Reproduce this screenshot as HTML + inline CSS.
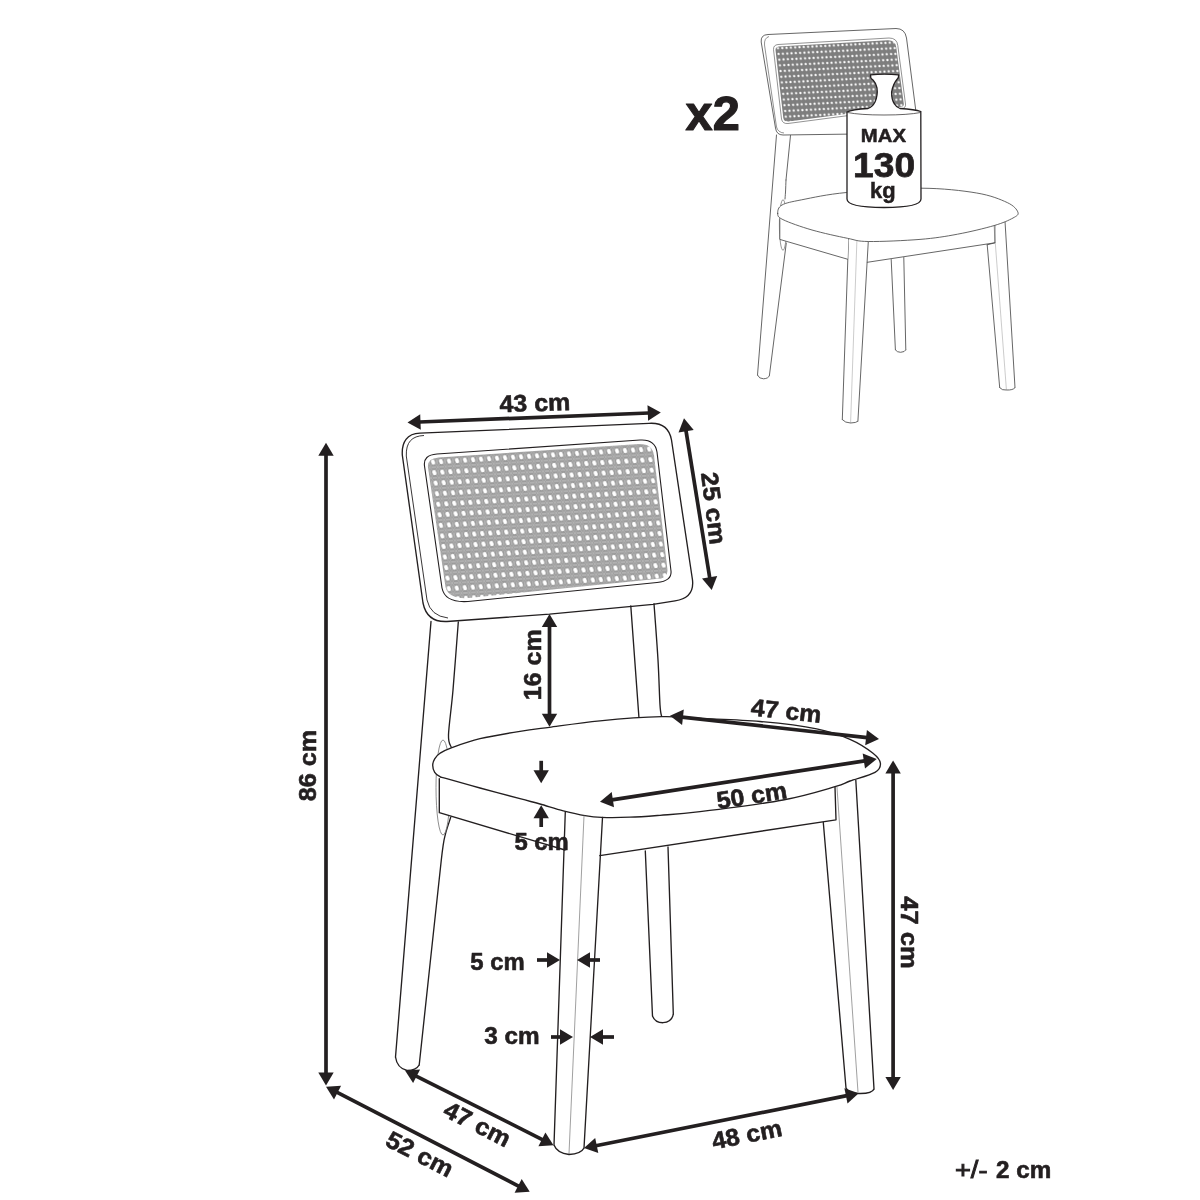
<!DOCTYPE html>
<html><head><meta charset="utf-8"><style>
html,body{margin:0;padding:0;background:#fff;}
svg{display:block;will-change:transform;}
text{font-family:"Liberation Sans",sans-serif;fill:#231f20;}
</style></head><body>
<svg width="1200" height="1200" viewBox="0 0 1200 1200">
<defs>
<pattern id="cane" patternUnits="userSpaceOnUse" width="8" height="10.55" patternTransform="matrix(1,-0.06,0.1245,1,428.4,457.0)">
<rect width="8" height="10.55" fill="#9a9a9a"/>
<path d="M0,0 L8,10.55 M8,0 L0,10.55" stroke="#b9b9b9" stroke-width="0.8"/>
<path d="M1.5,0.4 H6.5 M0.4,2.5 V8 M1.5,10.1 H6.5 M7.6,2.5 V8" stroke="#bebebe" stroke-width="0.6"/>
<ellipse cx="4" cy="5.275" rx="1.95" ry="2.6" fill="#fff" transform="rotate(-15 4 5.275)"/>
</pattern>
<pattern id="cane2" patternUnits="userSpaceOnUse" width="4.3" height="5.7" patternTransform="matrix(1,-0.05,0.115,1,775.5,45.5)">
<rect width="4.3" height="5.7" fill="#7e7e7e"/>
<ellipse cx="2.15" cy="2.85" rx="1.05" ry="1.25" fill="#fff"/>
</pattern>
</defs>
<rect width="1200" height="1200" fill="#fff"/>
<g id="small">
<path d="M776.5,135.0 L757.5,375.0" fill="none" stroke="#4a4a4a" stroke-width="0.85" stroke-linejoin="round" stroke-linecap="round"/>
<path d="M786.0,180.0 C785.9,182.0 785.7,188.8 785.5,192.0 C785.3,195.2 785.1,197.8 785.0,199.0" fill="none" stroke="#4a4a4a" stroke-width="0.85" stroke-linejoin="round" stroke-linecap="round"/>
<path d="M790.5,135.5 L786.0,180.0" fill="none" stroke="#4a4a4a" stroke-width="0.85" stroke-linejoin="round" stroke-linecap="round"/>
<path d="M786.3,243.0 L769.4,375.5" fill="none" stroke="#4a4a4a" stroke-width="0.85" stroke-linejoin="round" stroke-linecap="round"/>
<path d="M757.5,375 Q759,378.8 763.5,378.8 Q768.5,378.5 769.4,375.5" fill="none" stroke="#4a4a4a" stroke-width="0.85"/>
<path d="M768,34.5 L896,28.5 Q905,28.5 906.5,38 L917,120 Q918,133 908,133.3 L783,135 Q776.5,135 775.5,128 L761.2,42 Q760.5,34.8 768,34.5 Z" fill="#fff" stroke="#4a4a4a" stroke-width="0.85"/>
<path d="M769,36.5 Q764,38 764.5,45 L776.5,127 Q778,132.5 784,133" fill="none" stroke="#4a4a4a" stroke-width="0.6"/>
<path d="M778,44.5 L889,38 Q897,38 897.8,45.5 L905.5,104 Q906,108 902,108.5 L788,123.5 Q782.5,124 781.5,119 L773.5,49.5 Q773.3,45 778,44.5 Z" fill="#fff" stroke="#4a4a4a" stroke-width="0.6"/>
<path d="M778.8,46.5 L888,40.2 Q895.5,40.2 896.2,47 L903.8,104 Q904,106.5 901,106.8 L788.5,121.5 Q784,122 783.3,118 L775.5,50 Q775.3,47 778.8,46.5 Z" fill="url(#cane2)"/>
<path d="M893.0,133.0 L897.0,190.0" fill="none" stroke="#4a4a4a" stroke-width="0.85" stroke-linejoin="round" stroke-linecap="round"/>
<path d="M905.0,133.0 L909.0,190.0" fill="none" stroke="#4a4a4a" stroke-width="0.85" stroke-linejoin="round" stroke-linecap="round"/>
<path d="M987.2,244.8 L999.7,387.6" fill="none" stroke="#4a4a4a" stroke-width="0.85" stroke-linejoin="round" stroke-linecap="round"/>
<path d="M994.0,226.0 L1006.4,389.5" fill="none" stroke="#999" stroke-width="0.50" stroke-linejoin="round" stroke-linecap="round"/>
<path d="M1005.0,221.0 L1015.0,387.6" fill="none" stroke="#4a4a4a" stroke-width="0.85" stroke-linejoin="round" stroke-linecap="round"/>
<path d="M999.7,387.6 Q1002,390.5 1006.4,390 Q1013,390.3 1015,387.6" fill="none" stroke="#4a4a4a" stroke-width="0.85"/>
<path d="M891.2,259.5 L895.4,349.8" fill="none" stroke="#4a4a4a" stroke-width="0.85" stroke-linejoin="round" stroke-linecap="round"/>
<path d="M903.8,257.5 L905.8,349.8" fill="none" stroke="#4a4a4a" stroke-width="0.85" stroke-linejoin="round" stroke-linecap="round"/>
<path d="M895.4,349.8 Q897,352.3 900.6,352.3 Q905,352 905.8,349.8" fill="none" stroke="#4a4a4a" stroke-width="0.85"/>
<path d="M848.5,239.4 L842.3,419.6" fill="none" stroke="#4a4a4a" stroke-width="0.85" stroke-linejoin="round" stroke-linecap="round"/>
<path d="M856.9,240.4 L850.6,422.7" fill="none" stroke="#999" stroke-width="0.50" stroke-linejoin="round" stroke-linecap="round"/>
<path d="M868.3,241.5 L857.9,421.2" fill="none" stroke="#4a4a4a" stroke-width="0.85" stroke-linejoin="round" stroke-linecap="round"/>
<path d="M842.3,419.6 Q845,422.8 850.6,423 Q856.5,422.8 857.9,421.2" fill="none" stroke="#4a4a4a" stroke-width="0.85"/>
<ellipse cx="783" cy="225" rx="3.6" ry="25.3" fill="#fff" stroke="#666" stroke-width="0.7"/>
<path d="M779.8,219.6 L779.8,239.4 L847.5,259.2 L848.5,239.4 L812,230 L782.9,219.6 Z" fill="#fff"/>
<path d="M779.8,219.6 L779.8,239.4 L847.5,259.2" fill="none" stroke="#4a4a4a" stroke-width="0.85" stroke-linejoin="round" stroke-linecap="round"/>
<path d="M867.3,262.3 L994.9,242.8 L994.9,225.6" fill="none" stroke="#4a4a4a" stroke-width="0.85" stroke-linejoin="round" stroke-linecap="round"/>
<path d="M987.2,244.8 L994.9,242.8" fill="none" stroke="#4a4a4a" stroke-width="0.85" stroke-linejoin="round" stroke-linecap="round"/>
<path d="M777.7,213.3 C777.6,210.9 778.0,207.2 782.0,205.0 C786.0,202.8 791.0,201.9 801.7,199.8 C812.5,197.7 826.6,194.4 846.5,192.5 C866.4,190.6 899.3,188.1 921.0,188.2 C942.7,188.3 962.3,190.6 976.7,193.0 C991.1,195.4 1000.4,199.4 1007.3,202.6 C1014.2,205.8 1016.9,209.6 1017.9,212.2 C1018.9,214.8 1017.0,215.8 1013.0,218.0 C1009.0,220.2 1003.2,222.9 994.0,225.6 C984.8,228.3 969.8,231.9 957.5,234.2 C945.2,236.5 934.9,238.2 920.0,239.4 C905.1,240.6 880.4,241.7 868.3,241.5 C856.2,241.3 856.9,240.2 847.5,238.3 C838.1,236.4 822.8,233.1 812.0,230.0 C801.2,226.9 788.6,222.4 782.9,219.6 C777.2,216.8 777.9,215.7 777.7,213.3Z" fill="#fff" stroke="#4a4a4a" stroke-width="0.85" stroke-linejoin="round" stroke-linecap="round"/>
<path d="M870.5,74.8 Q884.5,73.5 898.5,74.8 Q899,77.8 897.3,79 Q893,84 891.6,92 Q891.5,100 894.5,104 Q896.5,107.5 900,108.5 Q915,109.5 920.8,111.5 L921,199 Q921,207.5 884,207.5 Q847,207.5 847,199 L847,112 Q852,109.5 868,108.5 Q872.5,107 875,102 Q878,95 877,88 Q876,83 873,80 Q870,78 870.5,74.8 Z" fill="#fff" stroke="#231f20" stroke-width="1.3"/>
<path d="M847.5,112.5 Q860,115 884,115 Q908,115 920.5,112.5" fill="none" stroke="#231f20" stroke-width="0.7"/>
<text transform="translate(883.4,135.6) rotate(0.00)" x="0" y="6.74" font-size="18.5" font-weight="bold" text-anchor="middle" textLength="45.1" lengthAdjust="spacingAndGlyphs" stroke="#231f20" stroke-width="0.50" stroke-linejoin="round">MAX</text>
<text transform="translate(884.1,163.7) rotate(0.00)" x="0" y="12.94" font-size="35.5" font-weight="bold" text-anchor="middle" textLength="62.0" lengthAdjust="spacingAndGlyphs" stroke="#231f20" stroke-width="0.75" stroke-linejoin="round">130</text>
<text x="882.8" y="197.5" font-size="21.5" font-weight="bold" text-anchor="middle" textLength="25.6" lengthAdjust="spacingAndGlyphs" stroke="#231f20" stroke-width="0.5">kg</text>
</g>
<g id="main">
<path d="M420,433.2 L649,423.3 C662,422.5 669.5,428.5 671.5,440 L692.5,580 Q694.5,598 675,600.8 L653,604.3 L549.5,614.2 L447,621.5 Q427,622.5 423,603 L402.3,455 C401.6,442 407,433.6 420,433.2 Z" fill="#fff" stroke="#231f20" stroke-width="1.35"/>
<path d="M424,435.5 C412,436 405.8,442 406.3,456 L427,600 Q430.5,616 448,618" fill="none" stroke="#231f20" stroke-width="0.9"/>
<path d="M437,454 L640,440 Q655,439 657,452 L671,571 Q672,581 657,582.5 L468,601.5 Q445,603 442,588 L424.5,466 Q423,455 437,454 Z" fill="#fff" stroke="#231f20" stroke-width="1.1"/>
<path d="M438.5,457.5 L639,444 Q652,443.5 654,455 L667.5,570 Q668,578.5 656,579 L469,598 Q448.5,599.5 445.5,587 L428,467.5 Q427,458.5 438.5,457.5 Z" fill="url(#cane)"/>
<path d="M431.0,621.5 L395.5,1057.0" fill="none" stroke="#231f20" stroke-width="1.35" stroke-linejoin="round" stroke-linecap="round"/>
<path d="M458.3,622.0 C457.4,633.3 454.6,671.2 453.0,690.0 C451.4,708.8 448.8,725.5 448.5,735.0 C448.2,744.5 450.8,745.2 451.3,747.3" fill="none" stroke="#231f20" stroke-width="1.35" stroke-linejoin="round" stroke-linecap="round"/>
<path d="M450.7,817.3 C450.2,819.0 446.2,830.4 445.3,834.7 C444.4,839.0 443.9,837.0 441.3,860.0 C438.7,883.0 421.4,1044.5 419.2,1065.0" fill="none" stroke="#231f20" stroke-width="1.35" stroke-linejoin="round" stroke-linecap="round"/>
<path d="M395.5,1057 Q397,1068 407,1070.5 Q416,1070.5 419.2,1065" fill="none" stroke="#231f20" stroke-width="1.35"/>
<path d="M630.8,606.0 L639.0,718.3" fill="none" stroke="#231f20" stroke-width="1.35" stroke-linejoin="round" stroke-linecap="round"/>
<path d="M654.0,603.8 C654.7,613.2 657.0,643.1 658.0,660.0 C659.0,676.9 659.4,695.5 660.0,705.0 C660.6,714.5 661.4,714.8 661.7,716.7" fill="none" stroke="#231f20" stroke-width="1.35" stroke-linejoin="round" stroke-linecap="round"/>
<ellipse cx="443" cy="787.5" rx="7" ry="47.5" fill="none" stroke="#7a7a7a" stroke-width="0.85"/>
<path d="M439.3,779 L439.3,812.7 L565,850 L565.5,811 L446.7,778.7 Z" fill="#fff"/>
<path d="M432.7,765.3 C432.7,763.0 433.5,760.8 434.7,758.8 C435.9,756.8 437.2,755.0 440.0,753.2 C442.8,751.4 444.6,750.2 451.3,747.8 C458.0,745.4 468.6,741.5 480.0,738.7 C491.4,736.0 508.4,733.2 520.0,731.3 C531.5,729.4 536.0,729.0 549.3,727.3 C562.6,725.5 581.3,722.6 600.0,720.8 C618.7,719.0 645.0,717.1 661.7,716.7 C678.4,716.3 683.6,717.7 700.0,718.5 C716.4,719.3 740.5,719.8 760.0,721.5 C779.5,723.2 801.7,725.8 816.7,728.8 C831.7,731.8 840.6,735.2 850.0,739.3 C859.4,743.4 867.9,749.2 873.0,753.2 C878.1,757.2 880.1,760.1 880.4,763.3 C880.7,766.5 880.1,769.3 875.0,772.3 C869.9,775.2 856.7,778.6 850.0,781.0 C843.3,783.4 846.2,783.5 835.0,786.7 C823.8,789.9 805.5,795.8 783.0,800.0 C760.5,804.2 720.5,809.2 700.0,811.7 C679.5,814.2 671.7,814.4 660.0,815.3 C648.3,816.2 639.7,816.9 630.0,817.2 C620.3,817.6 609.2,817.7 601.7,817.4 C594.2,817.1 591.4,816.7 585.0,815.6 C578.6,814.5 570.8,812.7 563.3,810.8 C555.8,808.9 547.2,806.0 540.0,804.0 C532.8,802.0 530.0,801.4 520.0,798.7 C510.0,796.0 492.2,791.3 480.0,788.0 C467.8,784.7 453.4,780.6 446.7,778.7 C440.0,776.8 442.0,777.8 440.0,776.7 C438.0,775.6 435.9,774.2 434.7,772.3 C433.5,770.4 432.7,767.5 432.7,765.3Z" fill="#fff" stroke="#231f20" stroke-width="1.35" stroke-linejoin="round" stroke-linecap="round"/>
<path d="M439.3,778.7 L439.3,812.7 L565.0,850.0" fill="none" stroke="#231f20" stroke-width="1.35" stroke-linejoin="round" stroke-linecap="round"/>
<path d="M599.8,855.6 L836.0,819.8 L835.0,787.3" fill="none" stroke="#231f20" stroke-width="1.35" stroke-linejoin="round" stroke-linecap="round"/>
<path d="M565.3,811.7 L554.0,1145.0" fill="none" stroke="#231f20" stroke-width="1.35" stroke-linejoin="round" stroke-linecap="round"/>
<path d="M584.0,815.8 L569.0,1154.0" fill="none" stroke="#777" stroke-width="0.70" stroke-linejoin="round" stroke-linecap="round"/>
<path d="M602.5,817.5 L584.0,1148.0" fill="none" stroke="#231f20" stroke-width="1.35" stroke-linejoin="round" stroke-linecap="round"/>
<path d="M554,1145 Q557,1153 569,1154.5 Q581,1154 584,1148" fill="none" stroke="#231f20" stroke-width="1.35"/>
<path d="M823.3,822.5 L846.0,1088.0" fill="none" stroke="#231f20" stroke-width="1.35" stroke-linejoin="round" stroke-linecap="round"/>
<path d="M837.0,787.3 L858.0,1092.0" fill="none" stroke="#777" stroke-width="0.70" stroke-linejoin="round" stroke-linecap="round"/>
<path d="M855.8,780.0 L874.0,1089.0" fill="none" stroke="#231f20" stroke-width="1.35" stroke-linejoin="round" stroke-linecap="round"/>
<path d="M846,1088 Q849,1093 858,1093.5 Q872,1094 874,1089" fill="none" stroke="#231f20" stroke-width="1.35"/>
<path d="M645.3,851.0 L652.5,1016.0" fill="none" stroke="#231f20" stroke-width="1.35" stroke-linejoin="round" stroke-linecap="round"/>
<path d="M668.0,847.0 L673.3,1014.0" fill="none" stroke="#231f20" stroke-width="1.35" stroke-linejoin="round" stroke-linecap="round"/>
<path d="M652.5,1016 Q655,1022.7 663,1022.7 Q672,1022 673.3,1014" fill="none" stroke="#231f20" stroke-width="1.35"/>
<path d="M407.5,422.5 L420.2,414.3 L420.8,429.7 Z" fill="#231f20"/>
<path d="M660.8,412.5 L648.1,420.7 L647.5,405.3 Z" fill="#231f20"/>
<path d="M419.5,422.0 L648.8,413.0" stroke="#231f20" stroke-width="3.70" fill="none"/>
<path d="M684.0,418.3 L693.7,429.9 L678.5,432.4 Z" fill="#231f20"/>
<path d="M711.7,590.0 L702.0,578.4 L717.2,575.9 Z" fill="#231f20"/>
<path d="M685.9,430.1 L709.8,578.2" stroke="#231f20" stroke-width="3.70" fill="none"/>
<path d="M549.5,614.0 L557.2,627.0 L541.8,627.0 Z" fill="#231f20"/>
<path d="M549.5,726.7 L541.8,713.7 L557.2,713.7 Z" fill="#231f20"/>
<path d="M549.5,626.0 L549.5,714.7" stroke="#231f20" stroke-width="3.70" fill="none"/>
<path d="M670.0,715.8 L683.8,709.6 L682.1,724.9 Z" fill="#231f20"/>
<path d="M879.0,739.0 L865.2,745.2 L866.9,729.9 Z" fill="#231f20"/>
<path d="M681.9,717.1 L867.1,737.7" stroke="#231f20" stroke-width="3.70" fill="none"/>
<path d="M600.0,801.7 L611.7,792.1 L614.0,807.3 Z" fill="#231f20"/>
<path d="M876.7,759.0 L865.0,768.6 L862.7,753.4 Z" fill="#231f20"/>
<path d="M611.9,799.9 L864.8,760.8" stroke="#231f20" stroke-width="3.70" fill="none"/>
<path d="M326.0,442.7 L333.7,455.7 L318.3,455.7 Z" fill="#231f20"/>
<path d="M326.0,1085.6 L318.3,1072.6 L333.7,1072.6 Z" fill="#231f20"/>
<path d="M326.0,454.7 L326.0,1073.6" stroke="#231f20" stroke-width="3.70" fill="none"/>
<path d="M893.1,760.4 L900.8,773.4 L885.4,773.4 Z" fill="#231f20"/>
<path d="M893.1,1090.0 L885.4,1077.0 L900.8,1077.0 Z" fill="#231f20"/>
<path d="M893.1,772.4 L893.1,1078.0" stroke="#231f20" stroke-width="3.70" fill="none"/>
<path d="M405.0,1070.4 L420.1,1069.4 L413.1,1083.1 Z" fill="#231f20"/>
<path d="M553.5,1145.2 L538.4,1146.2 L545.4,1132.5 Z" fill="#231f20"/>
<path d="M415.7,1075.8 L542.8,1139.8" stroke="#231f20" stroke-width="3.70" fill="none"/>
<path d="M326.0,1086.7 L341.1,1085.8 L334.0,1099.5 Z" fill="#231f20"/>
<path d="M529.7,1191.8 L514.6,1192.7 L521.7,1179.0 Z" fill="#231f20"/>
<path d="M336.7,1092.2 L519.0,1186.3" stroke="#231f20" stroke-width="3.70" fill="none"/>
<path d="M584.0,1148.0 L595.2,1137.9 L598.3,1153.0 Z" fill="#231f20"/>
<path d="M858.7,1093.3 L847.5,1103.4 L844.4,1088.3 Z" fill="#231f20"/>
<path d="M595.8,1145.7 L846.9,1095.6" stroke="#231f20" stroke-width="3.70" fill="none"/>
<path d="M541.2,783.3 L533.5,770.3 L548.9,770.3 Z" fill="#231f20"/>
<path d="M541.2,760.8 L541.2,771.3" stroke="#231f20" stroke-width="3.70" fill="none"/>
<path d="M541.2,805.2 L548.9,818.2 L533.5,818.2 Z" fill="#231f20"/>
<path d="M541.2,827.0 L541.2,817.2" stroke="#231f20" stroke-width="3.70" fill="none"/>
<path d="M560.0,960.0 L547.0,967.7 L547.0,952.3 Z" fill="#231f20"/>
<path d="M537.0,960.0 L548.0,960.0" stroke="#231f20" stroke-width="3.70" fill="none"/>
<path d="M577.0,960.0 L590.0,952.3 L590.0,967.7 Z" fill="#231f20"/>
<path d="M600.0,960.0 L589.0,960.0" stroke="#231f20" stroke-width="3.70" fill="none"/>
<path d="M573.0,1037.0 L560.0,1044.7 L560.0,1029.3 Z" fill="#231f20"/>
<path d="M551.0,1037.0 L561.0,1037.0" stroke="#231f20" stroke-width="3.70" fill="none"/>
<path d="M590.0,1037.0 L603.0,1029.3 L603.0,1044.7 Z" fill="#231f20"/>
<path d="M614.0,1037.0 L602.0,1037.0" stroke="#231f20" stroke-width="3.70" fill="none"/>
<text transform="translate(534.8,402.4) rotate(-1.80)" x="0" y="8.75" font-size="24.0" font-weight="bold" text-anchor="middle" textLength="70.9" lengthAdjust="spacingAndGlyphs" stroke="#231f20" stroke-width="0.60" stroke-linejoin="round">43 cm</text>
<text transform="translate(714.2,508.2) rotate(83.00)" x="0" y="8.75" font-size="24.0" font-weight="bold" text-anchor="middle" textLength="72.4" lengthAdjust="spacingAndGlyphs" stroke="#231f20" stroke-width="0.60" stroke-linejoin="round">25 cm</text>
<text transform="translate(532.1,664.8) rotate(-90.00)" x="0" y="8.75" font-size="24.0" font-weight="bold" text-anchor="middle" textLength="70.7" lengthAdjust="spacingAndGlyphs" stroke="#231f20" stroke-width="0.60" stroke-linejoin="round">16 cm</text>
<text transform="translate(786.3,710.4) rotate(6.30)" x="0" y="8.75" font-size="24.0" font-weight="bold" text-anchor="middle" textLength="70.4" lengthAdjust="spacingAndGlyphs" stroke="#231f20" stroke-width="0.60" stroke-linejoin="round">47 cm</text>
<text transform="translate(751.7,795.0) rotate(-8.80)" x="0" y="8.75" font-size="24.0" font-weight="bold" text-anchor="middle" textLength="70.9" lengthAdjust="spacingAndGlyphs" stroke="#231f20" stroke-width="0.60" stroke-linejoin="round">50 cm</text>
<text transform="translate(541.6,841.5) rotate(0.00)" x="0" y="8.75" font-size="24.0" font-weight="bold" text-anchor="middle" textLength="54.4" lengthAdjust="spacingAndGlyphs" stroke="#231f20" stroke-width="0.60" stroke-linejoin="round">5 cm</text>
<text transform="translate(307.5,765.6) rotate(-90.00)" x="0" y="8.75" font-size="24.0" font-weight="bold" text-anchor="middle" textLength="71.4" lengthAdjust="spacingAndGlyphs" stroke="#231f20" stroke-width="0.60" stroke-linejoin="round">86 cm</text>
<text transform="translate(910.0,932.5) rotate(90.00)" x="0" y="8.75" font-size="24.0" font-weight="bold" text-anchor="middle" textLength="72.4" lengthAdjust="spacingAndGlyphs" stroke="#231f20" stroke-width="0.60" stroke-linejoin="round">47 cm</text>
<text transform="translate(497.5,960.9) rotate(0.00)" x="0" y="8.75" font-size="24.0" font-weight="bold" text-anchor="middle" textLength="54.4" lengthAdjust="spacingAndGlyphs" stroke="#231f20" stroke-width="0.60" stroke-linejoin="round">5 cm</text>
<text transform="translate(512.0,1035.5) rotate(0.00)" x="0" y="8.75" font-size="24.0" font-weight="bold" text-anchor="middle" textLength="55.4" lengthAdjust="spacingAndGlyphs" stroke="#231f20" stroke-width="0.60" stroke-linejoin="round">3 cm</text>
<text transform="translate(477.6,1123.6) rotate(27.00)" x="0" y="8.75" font-size="24.0" font-weight="bold" text-anchor="middle" textLength="71.4" lengthAdjust="spacingAndGlyphs" stroke="#231f20" stroke-width="0.60" stroke-linejoin="round">47 cm</text>
<text transform="translate(420.0,1153.6) rotate(27.30)" x="0" y="8.75" font-size="24.0" font-weight="bold" text-anchor="middle" textLength="71.9" lengthAdjust="spacingAndGlyphs" stroke="#231f20" stroke-width="0.60" stroke-linejoin="round">52 cm</text>
<text transform="translate(746.7,1134.0) rotate(-11.30)" x="0" y="8.75" font-size="24.0" font-weight="bold" text-anchor="middle" textLength="70.9" lengthAdjust="spacingAndGlyphs" stroke="#231f20" stroke-width="0.60" stroke-linejoin="round">48 cm</text>
<text x="954.9" y="1178" font-size="23.5" font-weight="normal" textLength="32.6" lengthAdjust="spacingAndGlyphs" stroke="#231f20" stroke-width="0.9">+/-</text>
<text x="996.1" y="1177.7" font-size="23" font-weight="bold" textLength="55.2" lengthAdjust="spacingAndGlyphs" stroke="#231f20" stroke-width="0.6">2 cm</text>
<text x="685.6" y="129.9" font-size="49" font-weight="bold" textLength="54.2" lengthAdjust="spacingAndGlyphs" stroke="#231f20" stroke-width="1.2" stroke-linejoin="round">x2</text>
</g>
</svg>
</body></html>
